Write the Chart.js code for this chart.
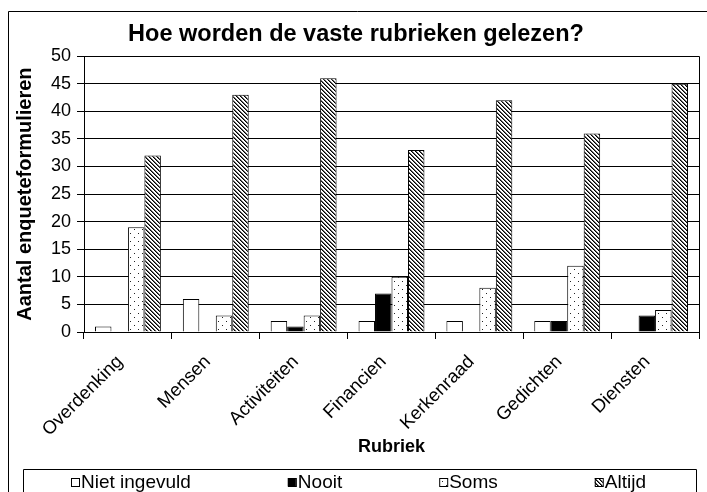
<!DOCTYPE html>
<html>
<head>
<meta charset="utf-8">
<script src="https://cdn.jsdelivr.net/npm/chart.js@4"></script>
<style>
  body { margin: 0; background: #fff; }
  canvas { display: block; }
</style>
</head>
<body>
<canvas id="myChart" width="707" height="492"></canvas>
<script>
const categories = ['Overdenking', 'Mensen', 'Activiteiten', 'Financien', 'Kerkenraad', 'Gedichten', 'Diensten']
const nietIngevuld = [1, 6, 2, 2, 2, 2, 0]
const nooit = [0, 0, 1, 7, 0, 2, 3]
const soms = [19, 3, 3, 10, 8, 12, 4]
const altijd = [32, 43, 46, 33, 42, 36, 45]
const seriesNames = ['Niet ingevuld', 'Nooit', 'Soms', 'Altijd']

const FONT = '"Liberation Sans", Arial, sans-serif'

// small canvas tiles for the black & white fills
function dotPattern() {
    const c = document.createElement('canvas')
    c.width = 8
    c.height = 8
    const g = c.getContext('2d')
    g.fillStyle = '#fff'
    g.fillRect(0, 0, 8, 8)
    g.fillStyle = '#222'
    g.fillRect(2, 1, 1, 1)
    g.fillRect(6, 5, 1, 1)
    return g.createPattern(c, 'repeat')
}

function hatchPattern() {
    const c = document.createElement('canvas')
    c.width = 4
    c.height = 4
    const g = c.getContext('2d')
    g.fillStyle = '#fff'
    g.fillRect(0, 0, 4, 4)
    for (let i = 0; i < 4; i++) {
        g.fillStyle = '#000'
        g.fillRect(i, i, 1, 1)
        g.fillStyle = '#666'
        g.fillRect((i + 1) % 4, i, 1, 1)
    }
    return g.createPattern(c, 'repeat')
}

const fills = ['#ffffff', '#000000', dotPattern(), hatchPattern()]

const framePlugin = {
    id: 'frame',
    afterDraw(chart) {
        const ctx = chart.ctx
        const a = chart.chartArea
        ctx.save()
        ctx.strokeStyle = '#000'
        ctx.lineWidth = 1
        // outer border
        ctx.beginPath()
        ctx.moveTo(8.5, 492)
        ctx.lineTo(8.5, 11.5)
        ctx.lineTo(707, 11.5)
        ctx.stroke()
        // plot area right side + top
        ctx.beginPath()
        ctx.moveTo(Math.round(a.left) + 0.5, Math.round(a.top) + 0.5)
        ctx.lineTo(Math.round(a.right) + 0.5, Math.round(a.top) + 0.5)
        ctx.lineTo(Math.round(a.right) + 0.5, Math.round(a.bottom) + 0.5)
        ctx.stroke()
        // legend box
        ctx.beginPath()
        ctx.moveTo(23.5, 492)
        ctx.lineTo(23.5, 469.5)
        ctx.lineTo(696.5, 469.5)
        ctx.lineTo(696.5, 492)
        ctx.stroke()
        // legend items
        ctx.font = '19px ' + FONT
        ctx.textBaseline = 'middle'
        ctx.textAlign = 'left'
        let x = 71
        const cy = 482
        chart.data.datasets.forEach(ds => {
            ctx.fillStyle = ds.backgroundColor
            ctx.fillRect(x, cy - 4, 8, 8)
            ctx.strokeRect(x + 0.5, cy - 4 + 0.5, 8, 8)
            ctx.fillStyle = '#000'
            ctx.fillText(ds.label, x + 10, cy + 1)
            x += 10 + ctx.measureText(ds.label).width + 97
        })
        ctx.restore()
    }
}

const chart = document.getElementById('myChart')
const seriesData = [nietIngevuld, nooit, soms, altijd]

new Chart(chart, {
    type: 'bar',
    data: {
        labels: categories,
        datasets: seriesData.map((d, i) => ({
            label: seriesNames[i],
            data: d,
            backgroundColor: fills[i],
            borderColor: '#000',
            borderWidth: 1,
            borderSkipped: 'bottom',
            barPercentage: 1,
            categoryPercentage: 0.75
        }))
    },
    options: {
        responsive: false,
        animation: false,
        devicePixelRatio: 1,
        layout: {
            padding: { left: 13, right: 8, top: 0, bottom: 33 }
        },
        plugins: {
            legend: { display: false },
            tooltip: { enabled: false },
            title: {
                display: true,
                text: 'Hoe worden de vaste rubrieken gelezen?',
                color: '#000',
                font: { family: FONT, size: 23.5, weight: 'bold' },
                padding: { top: 20, bottom: 8 }
            }
        },
        scales: {
            x: {
                grid: {
                    display: true,
                    drawOnChartArea: false,
                    drawTicks: true,
                    tickLength: 7,
                    color: '#000',
                    offset: true
                },
                border: { color: '#000' },
                ticks: {
                    color: '#000',
                    font: { family: FONT, size: 18.5 },
                    maxRotation: 45,
                    minRotation: 45,
                    padding: 12,
                    labelOffset: -8
                },
                title: {
                    display: true,
                    text: 'Rubriek',
                    color: '#000',
                    font: { family: FONT, size: 18, weight: 'bold' },
                    padding: { top: 0, bottom: 1 }
                },
                afterFit(scale) {
                    scale.height = 127
                }
            },
            y: {
                min: 0,
                max: 50,
                ticks: {
                    stepSize: 5,
                    color: '#000',
                    font: { family: FONT, size: 18 },
                    padding: 6
                },
                grid: { color: '#000', tickLength: 7 },
                border: { color: '#000' },
                title: {
                    display: true,
                    text: 'Aantal enqueteformulieren',
                    color: '#000',
                    font: { family: FONT, size: 20, weight: 'bold' },
                    padding: { top: 0, bottom: 0 }
                },
                afterFit(scale) {
                    scale.width = 71
                }
            }
        }
    },
    plugins: [framePlugin]
})
</script>
</body>
</html>
